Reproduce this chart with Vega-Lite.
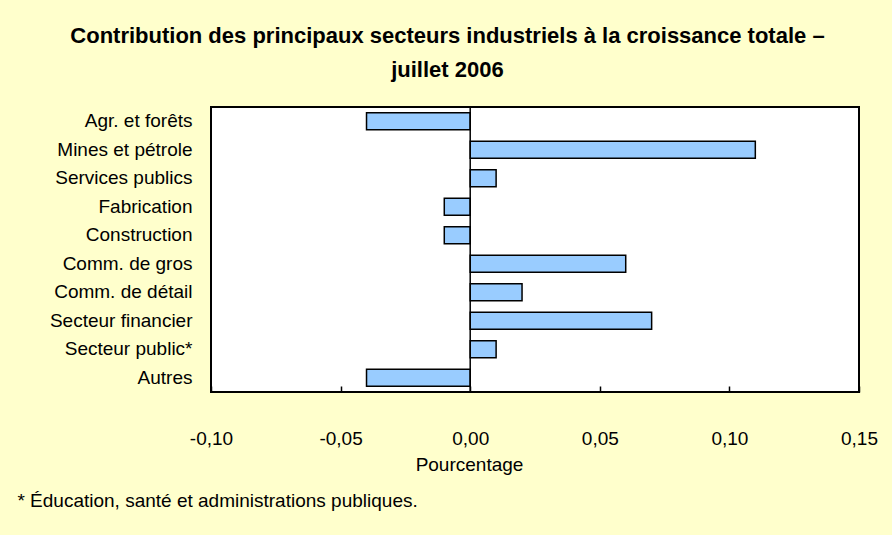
{
  "$schema": "https://vega.github.io/schema/vega-lite/v6.json",
  "background": "#FFFFCC",
  "padding": {"left": 16, "top": 25, "right": 14, "bottom": 27},
  "title": {
    "text": ["Contribution des principaux secteurs industriels à la croissance totale –", "juillet 2006"],
    "font": "Liberation Sans",
    "fontSize": 22,
    "fontWeight": "bold",
    "color": "#000000",
    "lineHeight": 34,
    "anchor": "middle",
    "offset": 23
  },
  "config": {
    "font": "Liberation Sans",
    "view": {"stroke": "#000000", "strokeWidth": 2, "fill": "#FFFFFF"}
  },
  "vconcat": [
    {
      "width": 648,
      "height": 285,
      "title": {
        "text": "* Éducation, santé et administrations publiques.",
        "orient": "bottom",
        "anchor": "start",
        "frame": "bounds",
        "dx": -32,
        "offset": 18,
        "fontSize": 19,
        "fontWeight": "normal",
        "color": "#000000"
      },
      "data": {
        "values": [
          {"secteur": "Agr. et forêts", "valeur": -0.04},
          {"secteur": "Mines et pétrole", "valeur": 0.11},
          {"secteur": "Services publics\u00a0", "valeur": 0.01},
          {"secteur": "Fabrication", "valeur": -0.01},
          {"secteur": "Construction", "valeur": -0.01},
          {"secteur": "Comm. de gros", "valeur": 0.06},
          {"secteur": "Comm. de détail", "valeur": 0.02},
          {"secteur": "Secteur financier\u00a0", "valeur": 0.07},
          {"secteur": "Secteur public*", "valeur": 0.01},
          {"secteur": "Autres", "valeur": -0.04}
        ]
      },
      "layer": [
        {
          "mark": {"type": "bar", "fill": "#99CCFF", "stroke": "#000000", "strokeWidth": 1.5},
          "encoding": {
            "y": {
              "field": "secteur",
              "type": "nominal",
              "sort": null,
              "scale": {"paddingInner": 0.4, "paddingOuter": 0.2},
              "axis": {
                "title": null,
                "ticks": false,
                "domain": false,
                "labelFontSize": 19,
                "labelColor": "#000000",
                "labelPadding": 19
              }
            },
            "x": {
              "field": "valeur",
              "type": "quantitative",
              "scale": {"domain": [-0.1, 0.15], "nice": false, "zero": false},
              "axis": {
                "title": "Pourcentage",
                "titleFontSize": 19,
                "titleFontWeight": "normal",
                "titleColor": "#000000",
                "titlePadding": 7,
                "titleX": 258,
                "values": [-0.1, -0.05, 0, 0.05, 0.1, 0.15],
                "labelExpr": "(datum.value < -0.0001 ? '-' : '') + replace(format(abs(datum.value), '.2f'), '.', ',')",
                "labelFontSize": 19,
                "labelColor": "#000000",
                "labelPadding": 43,
                "labelFlush": false,
                "grid": false,
                "domain": false,
                "tickSize": -6,
                "tickColor": "#000000",
                "tickWidth": 1.5
              }
            }
          }
        },
        {
          "data": {"values": [{"zero": 0}]},
          "mark": {"type": "rule", "color": "#000000", "strokeWidth": 1.5},
          "encoding": {"x": {"field": "zero", "type": "quantitative"}}
        }
      ]
    }
  ]
}
